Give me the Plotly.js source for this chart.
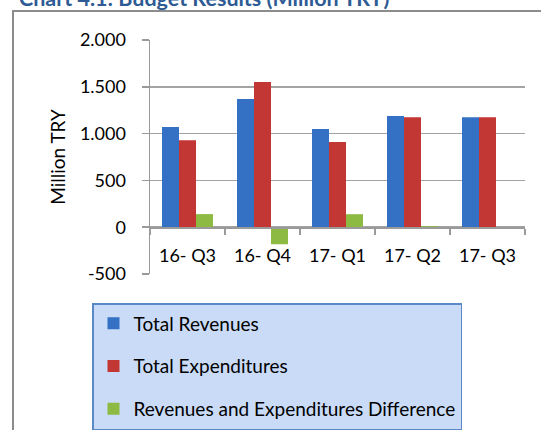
<!DOCTYPE html>
<html>
<head>
<meta charset="utf-8">
<script src="https://cdn.plot.ly/plotly-3.0.1.min.js"></script>
<style>
html,body{margin:0;padding:0;background:#fff;}
#chart{width:541px;height:430px;}
</style>
</head>
<body>
<div id="chart"></div>
<script>
const categories = ["16- Q3", "16- Q4", "17- Q1", "17- Q2", "17- Q3"];
const totalRevenues = [1070, 1369, 1048, 1187, 1176];
const totalExpenditures = [930, 1551, 909, 1176, 1176];
const difference = [140, -182, 139, 11, 0];
const seriesNames = ["Total Revenues", "Total Expenditures", "Revenues and Expenditures Difference"];
const yTickVals = [-500, 0, 500, 1000, 1500, 2000];
const yTickText = ["-500", "0", "500", "1.000", "1.500", "2.000"];
const chartTitle = "Chart 4.1: Budget Results (Million TRY)";
const yTitle = "Million TRY";

const colors = ["#3471C4", "#C23634", "#8DBA42"];
const series = [totalRevenues, totalExpenditures, difference];
const FONT = "Lato, 'Open Sans', sans-serif";

const traces = series.map((vals, i) => ({
  type: "bar",
  x: categories,
  y: vals,
  name: seriesNames[i],
  legendgroup: "g" + i,
  marker: {color: colors[i], line: {width: 0}},
  hoverinfo: "skip"
}));

// plot area in pixels: x 150..525, y 40..274
const L = 150, R = 16, T = 40, B = 156, W = 541, H = 430;
const pw = W - L - R, ph = H - T - B;
const px = x => (x - L) / pw;
const py = y => (H - B - y) / ph;

const layout = {
  width: W, height: H,
  margin: {l: L, r: R, t: T, b: B, pad: 0, autoexpand: false},
  paper_bgcolor: "#fff",
  plot_bgcolor: "#fff",
  font: {family: FONT, size: 18, color: "#000"},
  showlegend: true,
  barmode: "group",
  bargap: 0.32,
  bargroupgap: 0,
  xaxis: {
    type: "category",
    anchor: "free",
    position: py(227),
    showline: true,
    linecolor: "#9a9a9a",
    linewidth: 1.5,
    ticks: "outside",
    tickson: "boundaries",
    ticklen: 6,
    tickwidth: 1.5,
    tickcolor: "#9a9a9a",
    ticklabelstandoff: 12,
    showgrid: false,
    zeroline: false,
    tickfont: {family: FONT, size: 18, color: "#000"},
    fixedrange: true
  },
  yaxis: {
    range: [-500, 2000],
    tickvals: yTickVals,
    ticktext: yTickText,
    showline: true,
    linecolor: "#9a9a9a",
    linewidth: 1.5,
    ticks: "outside",
    ticklen: 7,
    tickwidth: 1.5,
    tickcolor: "#9a9a9a",
    ticklabelstandoff: 12,
    showgrid: true,
    gridcolor: "#a3a3a3",
    gridwidth: 1.5,
    zeroline: false,
    tickfont: {family: FONT, size: 18, color: "#000"},
    title: {text: yTitle, font: {family: FONT, size: 19, color: "#000"}, standoff: 9},
    fixedrange: true
  },
  legend: {
    x: px(92), y: py(303),
    xanchor: "left", yanchor: "top",
    orientation: "v",
    traceorder: "grouped",
    tracegroupgap: 15,
    bgcolor: "#C9DBF7",
    bordercolor: "#5B88C6",
    borderwidth: 1.5,
    font: {family: FONT, size: 19, color: "#000"},
    itemclick: false,
    itemdoubleclick: false
  },
  shapes: [{
    type: "rect", xref: "paper", yref: "paper", layer: "below",
    x0: px(13), x1: px(560), y0: py(11), y1: py(460),
    line: {color: "#8c8c8c", width: 2}, fillcolor: "rgba(0,0,0,0)"
  }],
  annotations: [{
    text: "<b>" + chartTitle + "</b>",
    xref: "paper", yref: "paper",
    x: px(17), y: py(-2),
    xanchor: "left", yanchor: "middle",
    showarrow: false,
    font: {family: FONT, size: 21.5, color: "#2E5B94"}
  }]
};

Plotly.newPlot("chart", traces, layout, {displayModeBar: false, staticPlot: true});
</script>
</body>
</html>
